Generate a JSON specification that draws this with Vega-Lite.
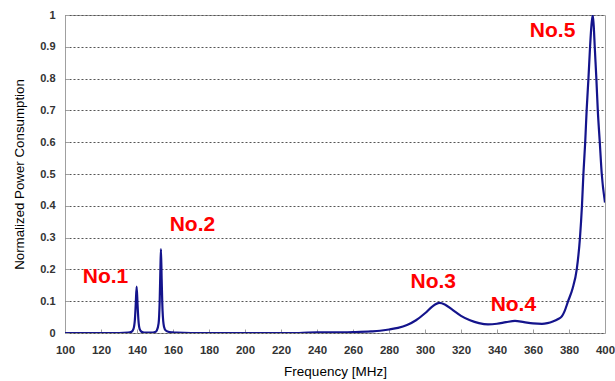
{
  "$schema": "https://vega.github.io/schema/vega-lite/v6.json",
  "width": 540,
  "height": 318,
  "autosize": {"type": "none"},
  "padding": {"left": 65, "top": 15, "right": 10, "bottom": 48},
  "background": "white",
  "config": {
    "view": {"stroke": "#a0a0a0", "strokeWidth": 1},
    "font": "Liberation Sans"
  },
  "datasets": {
    "curve": [
      {"f": 100, "p": 0}, {"f": 110, "p": 0}, {"f": 120, "p": 0}, {"f": 130, "p": 0},
      {"f": 135, "p": 0.001}, {"f": 137, "p": 0.004}, {"f": 138, "p": 0.012}, {"f": 138.8, "p": 0.04},
      {"f": 139.3, "p": 0.09}, {"f": 139.8, "p": 0.146}, {"f": 140.3, "p": 0.09}, {"f": 140.8, "p": 0.04},
      {"f": 141.5, "p": 0.012}, {"f": 142.5, "p": 0.004}, {"f": 144, "p": 0.001}, {"f": 148, "p": 0.001},
      {"f": 150, "p": 0.003}, {"f": 151, "p": 0.008}, {"f": 152, "p": 0.03}, {"f": 152.6, "p": 0.1},
      {"f": 153.0, "p": 0.2}, {"f": 153.3, "p": 0.264}, {"f": 153.7, "p": 0.17}, {"f": 154.2, "p": 0.07},
      {"f": 155, "p": 0.02}, {"f": 156, "p": 0.008}, {"f": 158, "p": 0.003}, {"f": 160, "p": 0.002},
      {"f": 162, "p": 0.001}, {"f": 170, "p": 0}, {"f": 200, "p": 0}, {"f": 230, "p": 0},
      {"f": 240, "p": 0.002}, {"f": 250, "p": 0.002}, {"f": 260, "p": 0.003}, {"f": 270, "p": 0.005},
      {"f": 275, "p": 0.007}, {"f": 280, "p": 0.011}, {"f": 285, "p": 0.016}, {"f": 290, "p": 0.025},
      {"f": 295, "p": 0.04}, {"f": 300, "p": 0.062}, {"f": 304, "p": 0.083}, {"f": 308, "p": 0.095},
      {"f": 311, "p": 0.09}, {"f": 315, "p": 0.074}, {"f": 320, "p": 0.054}, {"f": 325, "p": 0.04},
      {"f": 330, "p": 0.031}, {"f": 335, "p": 0.027}, {"f": 340, "p": 0.029}, {"f": 345, "p": 0.034},
      {"f": 350, "p": 0.038}, {"f": 355, "p": 0.034}, {"f": 360, "p": 0.03}, {"f": 365, "p": 0.029},
      {"f": 368, "p": 0.031}, {"f": 371, "p": 0.036}, {"f": 374, "p": 0.044}, {"f": 376, "p": 0.052},
      {"f": 377.5, "p": 0.068}, {"f": 379.5, "p": 0.1}, {"f": 382, "p": 0.14}, {"f": 384.3, "p": 0.2},
      {"f": 386.1, "p": 0.3}, {"f": 387.2, "p": 0.4}, {"f": 388, "p": 0.5}, {"f": 389, "p": 0.6},
      {"f": 389.8, "p": 0.7}, {"f": 390.8, "p": 0.8}, {"f": 391.7, "p": 0.9}, {"f": 392.5, "p": 0.97},
      {"f": 393.2, "p": 1.0}, {"f": 393.8, "p": 0.96}, {"f": 394.3, "p": 0.9}, {"f": 395.2, "p": 0.8},
      {"f": 396, "p": 0.7}, {"f": 397.1, "p": 0.6}, {"f": 398.2, "p": 0.5}, {"f": 400, "p": 0.41}
    ],
    "labels": [
      {"f": 122.5, "p": 0.177, "t": "No.1"},
      {"f": 170.8, "p": 0.34, "t": "No.2"},
      {"f": 304.6, "p": 0.161, "t": "No.3"},
      {"f": 349.1, "p": 0.088, "t": "No.4"},
      {"f": 370.9, "p": 0.951, "t": "No.5"}
    ]
  },
  "encoding": {
    "x": {
      "field": "f", "type": "quantitative",
      "scale": {"domain": [100, 400], "nice": false, "zero": false},
      "axis": {
        "title": "Frequency [MHz]", "values": [100,120,140,160,180,200,220,240,260,280,300,320,340,360,380,400],
        "tickCount": 16,
        "format": "d", "grid": false, "domain": false, "labelOverlap": false, "labelFlush": false, "labelBound": false,
        "tickSize": -4, "tickColor": "#a0a0a0", "labelPadding": 15,
        "labelFont": "Liberation Sans", "labelFontSize": 11.5, "labelFontWeight": "bold", "labelColor": "#333",
        "titleFont": "Liberation Sans", "titleFontSize": 13.5, "titleFontWeight": "normal", "titleColor": "#000",
        "titlePadding": 9
      }
    },
    "y": {
      "field": "p", "type": "quantitative",
      "scale": {"domain": [0, 1], "nice": false},
      "axis": {
        "title": "Normalized Power Consumption", "values": [0,0.1,0.2,0.3,0.4,0.5,0.6,0.7,0.8,0.9,1],
        "tickCount": 11,
        "format": "~g", "labelOverlap": false, "labelFlush": false, "labelBound": false,
        "grid": true, "gridColor": "#555", "gridDash": [2, 2], "gridWidth": 1, "domain": false,
        "tickSize": -4, "tickColor": "#a0a0a0", "labelPadding": 14,
        "labelFont": "Liberation Sans", "labelFontSize": 11, "labelFontWeight": "bold", "labelColor": "#333",
        "titleFont": "Liberation Sans", "titleFontSize": 13.3, "titleFontWeight": "normal", "titleColor": "#000",
        "titlePadding": 13
      }
    }
  },
  "layer": [
    {
      "data": {"name": "curve"},
      "mark": {"type": "line", "color": "#14148c", "strokeWidth": 2.2, "interpolate": "monotone", "clip": true}
    },
    {
      "data": {"name": "labels"},
      "mark": {"type": "text", "color": "#ff0000", "fontSize": 21, "fontWeight": "bold", "font": "Liberation Sans", "align": "center", "baseline": "middle"},
      "encoding": {
        "text": {"field": "t"}
      }
    }
  ]
}
